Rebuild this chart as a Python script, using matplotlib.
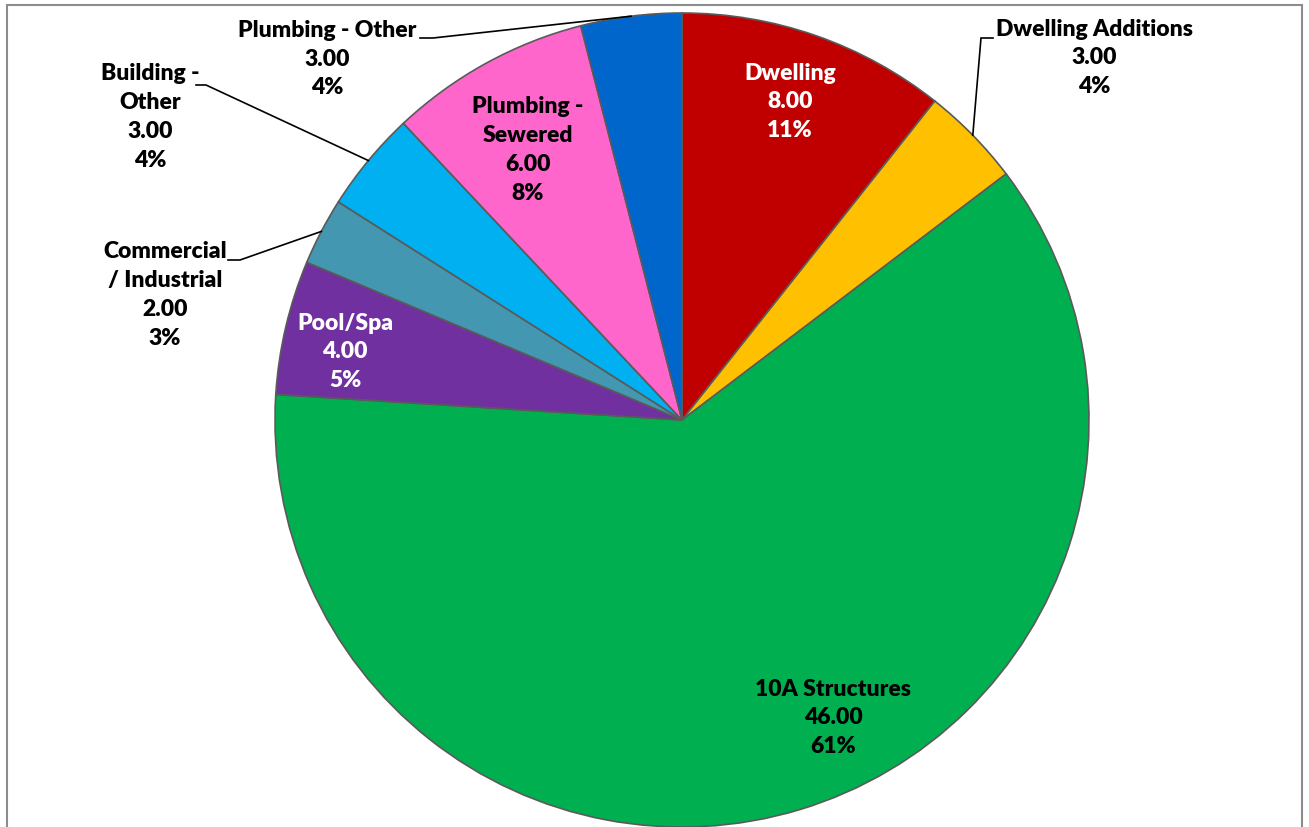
import matplotlib.pyplot as plt
import numpy as np
from matplotlib.patches import Rectangle

# data (clockwise from 12 o'clock)
categories = ['Dwelling', 'Dwelling Additions', '10A Structures', 'Pool/Spa',
              'Commercial\n/ Industrial', 'Building -\nOther', 'Plumbing -\nSewered',
              'Plumbing - Other']
values = [8, 3, 46, 4, 2, 3, 6, 3]
colors = ['#C00000', '#FFC000', '#00B050', '#7030A0', '#4397B0', '#00B0F0',
          '#FF66CC', '#0066CC']

W, H = 1309, 827
fig = plt.figure(figsize=(W / 100, H / 100), dpi=100)
ax = fig.add_axes([0, 0, 1, 1])

cx, cy, R = 682, H - 420, 407  # pie centre / radius in pixels

wedges, _ = ax.pie(values, colors=colors, startangle=90, counterclock=False,
                   center=(cx, cy), radius=R, frame=True,
                   wedgeprops=dict(edgecolor='#5a5a5a', linewidth=1.2))
ax.set_xlim(0, W)
ax.set_ylim(0, H)
ax.set_aspect('equal')
ax.axis('off')

total = sum(values)
font = dict(family=['Lato', 'DejaVu Sans'], fontweight='heavy', fontsize=16.5)


def edge_point(i):
    th = np.radians((wedges[i].theta1 + wedges[i].theta2) / 2)
    return cx + R * np.cos(th), cy + R * np.sin(th)


# label centre (pixel coords from top), text colour, leader (start, elbow) or None
label_pos = [
    ((790, 102), 'white', None),
    ((1094, 58), 'black', ((993, 38), (981, 38))),
    ((833, 718), 'black', None),
    ((345, 352), 'white', None),
    ((165, 295), 'black', ((228, 260), (240, 260))),
    ((150, 117), 'black', ((196, 85), (206, 85))),
    ((528, 150), 'black', None),
    ((327, 59), 'black', ((420, 38), (433, 38))),
]

for i, (cat, v) in enumerate(zip(categories, values)):
    (px, py), col, leader = label_pos[i]
    pct = round(100 * v / total)
    txt = '%s\n%.2f\n%d%%' % (cat, v, pct)
    ax.text(px, H - py, txt, ha='center', va='center', multialignment='center',
            color=col, linespacing=1.47, **font)
    if leader:
        (x0, y0), (x1, y1) = leader
        ex, ey = edge_point(i)
        ax.plot([x0, x1, ex], [H - y0, H - y1, ey], color='black', lw=1.2,
                solid_joinstyle='miter')

# chart frame
ax.add_patch(Rectangle((7, -20), W - 14, H - 5 + 20, fill=False,
                       edgecolor='#8c8c8c', linewidth=1.5, clip_on=False))

fig.savefig('out.png', dpi=100)
